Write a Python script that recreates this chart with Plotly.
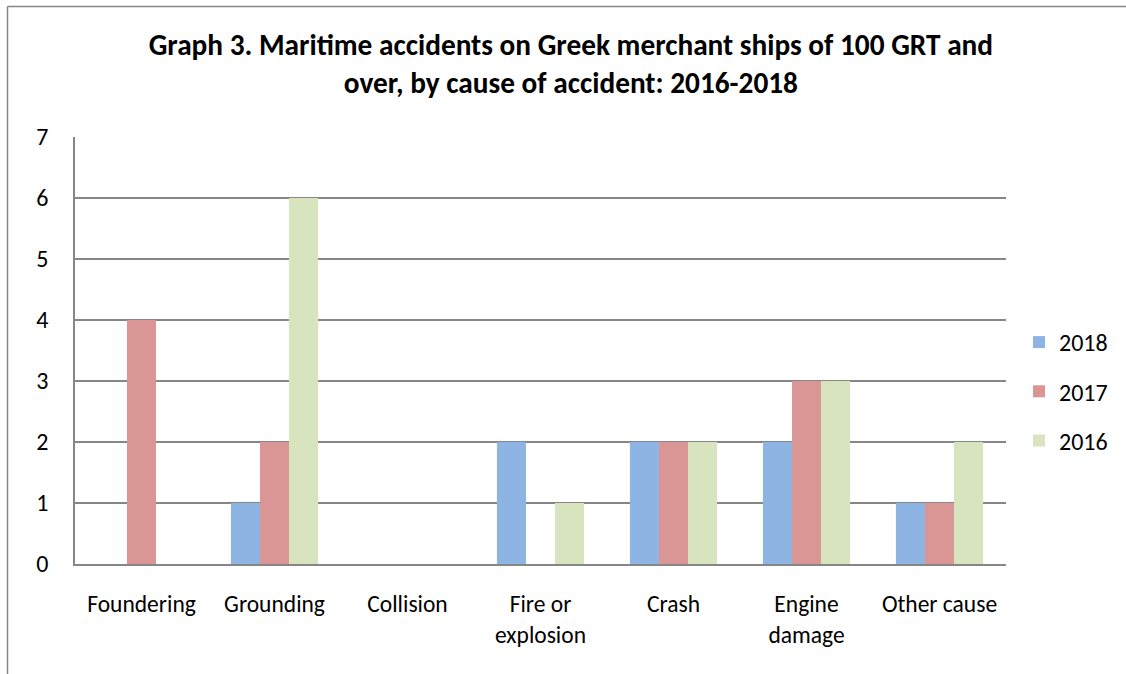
import plotly.graph_objects as go

categories = ["Foundering", "Grounding", "Collision", "Fire or<br>explosion", "Crash", "Engine<br>damage", "Other cause"]
series_names = ["2018", "2017", "2016"]
values_2018 = [0, 1, 0, 2, 2, 2, 1]
values_2017 = [4, 2, 0, 0, 2, 3, 1]
values_2016 = [0, 6, 0, 1, 2, 3, 2]
colors = ["#8EB4E3", "#D99694", "#D7E4BD"]
y_ticks = [0, 1, 2, 3, 4, 5, 6, 7]
title_text = "<b>Graph 3. Maritime accidents on Greek merchant ships of 100 GRT and<br>over, by cause of accident: 2016-2018</b>"

FONT = "Carlito, 'Open Sans', sans-serif"

fig = go.Figure()
for name, vals, col in zip(series_names, [values_2018, values_2017, values_2016], colors):
    fig.add_trace(go.Bar(x=categories, y=vals, name=name, legendgroup=name,
                         marker=dict(color=col, line=dict(width=0))))

W, H = 1126, 674
ml, mr, mt, mb = 75, 120, 137, 110
pw, ph = W - ml - mr, H - mt - mb

fig.update_layout(
    width=W, height=H,
    margin=dict(l=ml, r=mr, t=mt, b=mb, autoexpand=False),
    paper_bgcolor="white", plot_bgcolor="white",
    font=dict(family=FONT, size=23, color="#000000"),
    barmode="group", bargap=0.345, bargroupgap=0,
    title=dict(text=title_text, x=0.507, xanchor="center", y=1 - 55 / H, yanchor="middle",
               font=dict(family=FONT, size=29.3, color="#000000")),
    legend=dict(x=1 + 13 / pw, xanchor="left", y=0.5 - 41 / ph, yanchor="middle",
                font=dict(family=FONT, size=24), tracegroupgap=15, itemwidth=30,
                bgcolor="rgba(0,0,0,0)"),
    showlegend=True,
)
fig.update_xaxes(showline=True, linecolor="#868686", linewidth=1.5, showgrid=False,
                 ticks="", tickfont=dict(family=FONT, size=23.5), ticklabelstandoff=18,
                 fixedrange=True)
fig.update_yaxes(range=[0, 7], tickvals=y_ticks, showline=True, linecolor="#868686", linewidth=1.5,
                 showgrid=True, gridcolor="#868686", gridwidth=1.5, zeroline=False,
                 ticks="", tickfont=dict(family=FONT, size=24), ticklabelstandoff=20)

# outer chart frame (top and left edges)
fig.add_shape(type="line", xref="paper", yref="paper",
              x0=-(ml - 7.5) / pw, x1=(W - ml) / pw, y0=1 + (mt - 6.5) / ph, y1=1 + (mt - 6.5) / ph,
              line=dict(color="#868686", width=1.5))
fig.add_shape(type="line", xref="paper", yref="paper",
              x0=-(ml - 7.5) / pw, x1=-(ml - 7.5) / pw, y0=1 + (mt - 6.5) / ph, y1=-(mb) / ph,
              line=dict(color="#868686", width=1.5))

fig.write_html("out.html", config={"displayModeBar": False},
               post_script="document.body.style.margin='0px';")
